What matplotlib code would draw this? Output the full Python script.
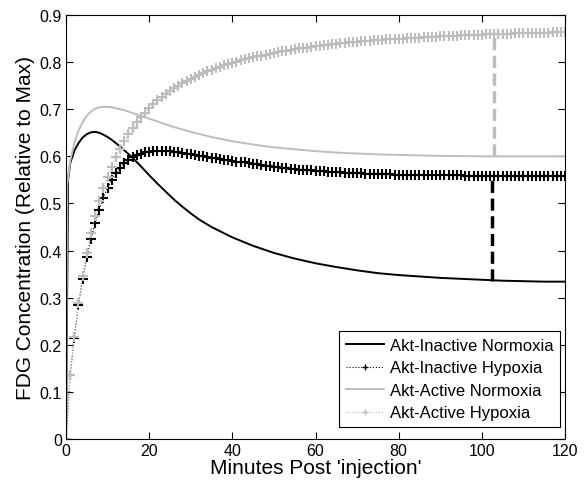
import matplotlib
matplotlib.use("Agg")
import matplotlib.pyplot as plt
import numpy as np

plt.rcParams['font.family'] = ['Liberation Sans', 'DejaVu Sans']

# ---- data ----
t_hyp = list(range(0, 121))
inactive_hypoxia = [
    0.000, 0.135, 0.215, 0.285, 0.340, 0.386, 0.425, 0.459, 0.487, 0.512,
    0.533, 0.550, 0.564, 0.576, 0.585, 0.592, 0.598, 0.603, 0.606, 0.609,
    0.610, 0.611, 0.612, 0.612, 0.612, 0.611, 0.610, 0.609, 0.607, 0.606,
    0.604, 0.603, 0.601, 0.600, 0.598, 0.597, 0.596, 0.594, 0.593, 0.592,
    0.591, 0.589, 0.588, 0.587, 0.585, 0.584, 0.583, 0.582, 0.580, 0.579,
    0.578, 0.577, 0.576, 0.575, 0.574, 0.573, 0.572, 0.571, 0.570, 0.570,
    0.569, 0.568, 0.568, 0.567, 0.567, 0.566, 0.566, 0.565, 0.565, 0.564,
    0.564, 0.564, 0.563, 0.563, 0.563, 0.562, 0.562, 0.562, 0.562, 0.561,
    0.561, 0.561, 0.561, 0.561, 0.561, 0.560, 0.560, 0.560, 0.560, 0.560,
    0.560, 0.560, 0.560, 0.560, 0.560, 0.560, 0.559, 0.559, 0.559, 0.559,
    0.559, 0.559, 0.559, 0.559, 0.559, 0.559, 0.559, 0.559, 0.559, 0.559,
    0.559, 0.559, 0.559, 0.559, 0.559, 0.559, 0.559, 0.559, 0.559, 0.559,
    0.559,
]
active_hypoxia = [
    0.000, 0.135, 0.217, 0.289, 0.347, 0.395, 0.437, 0.473, 0.505, 0.532,
    0.556, 0.578, 0.598, 0.616, 0.632, 0.647, 0.660, 0.672, 0.683, 0.693,
    0.702, 0.711, 0.719, 0.726, 0.733, 0.739, 0.745, 0.750, 0.755, 0.760,
    0.765, 0.769, 0.773, 0.777, 0.781, 0.784, 0.787, 0.790, 0.793, 0.796,
    0.799, 0.801, 0.804, 0.806, 0.808, 0.810, 0.812, 0.814, 0.816, 0.818,
    0.820, 0.821, 0.823, 0.824, 0.826, 0.827, 0.829, 0.830, 0.831, 0.832,
    0.834, 0.835, 0.836, 0.837, 0.838, 0.839, 0.840, 0.841, 0.842, 0.842,
    0.843, 0.844, 0.845, 0.845, 0.846, 0.847, 0.847, 0.848, 0.849, 0.849,
    0.850, 0.850, 0.851, 0.851, 0.852, 0.852, 0.853, 0.853, 0.854, 0.854,
    0.855, 0.855, 0.855, 0.856, 0.856, 0.857, 0.857, 0.857, 0.858, 0.858,
    0.858, 0.859, 0.859, 0.859, 0.860, 0.860, 0.860, 0.860, 0.861, 0.861,
    0.861, 0.861, 0.862, 0.862, 0.862, 0.862, 0.862, 0.863, 0.863, 0.863,
    0.863,
]

t_inactive_norm = [0, 0.5, 1, 2, 3, 4, 5, 6, 7, 8, 9, 10, 11, 12, 13, 14, 15, 16,
                   18, 20, 22, 24, 26, 28, 30, 32, 35, 40, 45, 50, 55, 60, 65, 70,
                   75, 80, 85, 90, 95, 100, 105, 110, 115, 120]
inactive_normoxia = [0.0, 0.55, 0.585, 0.612, 0.628, 0.640, 0.647, 0.651, 0.652, 0.650,
                     0.646, 0.641, 0.635, 0.628, 0.621, 0.613, 0.605, 0.597,
                     0.579, 0.560, 0.542, 0.525, 0.508, 0.493, 0.479, 0.466, 0.450,
                     0.428, 0.410, 0.395, 0.383, 0.373, 0.365, 0.358, 0.352, 0.348,
                     0.345, 0.342, 0.340, 0.338, 0.336, 0.335, 0.334, 0.334]

t_active_norm = [0, 0.3, 1, 2, 3, 4, 5, 6, 7, 8, 9, 10, 11, 12, 14, 16, 18, 20, 22,
                 24, 26, 28, 30, 35, 40, 45, 50, 55, 60, 65, 70, 75, 80, 90, 100,
                 110, 120]
active_normoxia = [0.0, 0.54, 0.59, 0.628, 0.654, 0.673, 0.686, 0.695, 0.701, 0.704,
                   0.705, 0.705, 0.704, 0.702, 0.698, 0.692, 0.686, 0.680, 0.674,
                   0.668, 0.662, 0.657, 0.652, 0.641, 0.632, 0.625, 0.619, 0.615,
                   0.611, 0.608, 0.606, 0.604, 0.603, 0.601, 0.600, 0.600, 0.600]

# vertical difference markers: (time, low, high)
diff_black = (102.5, 0.335, 0.559)
diff_grey = (103.0, 0.600, 0.861)

labels = ['Akt-Inactive Normoxia', 'Akt-Inactive Hypoxia',
          'Akt-Active Normoxia', 'Akt-Active Hypoxia']

BLACK = '#000000'
GREY = '#bdbdbd'

fig = plt.figure(figsize=(5.87, 4.85), dpi=100)
ax = fig.add_axes([66/587, 1-440/485, (565-66)/587, (440-16)/485])

ax.plot(t_inactive_norm, inactive_normoxia, color=BLACK, lw=1.4, label=labels[0])
ax.plot(t_hyp, inactive_hypoxia, color=BLACK, lw=0.8, ls=':', marker='+',
        ms=6.5, mew=1.5, label=labels[1])
ax.plot(t_active_norm, active_normoxia, color=GREY, lw=1.4, label=labels[2])
ax.plot(t_hyp, active_hypoxia, color=GREY, lw=0.8, ls=':', marker='+',
        ms=6.5, mew=1.5, label=labels[3])

ax.plot([diff_black[0]] * 2, [diff_black[1], diff_black[2]], color=BLACK,
        lw=2.5, ls=(0, (3.5, 1.6)))
ax.plot([diff_grey[0]] * 2, [diff_grey[1], diff_grey[2]], color=GREY,
        lw=2.5, ls=(0, (3.5, 1.6)))

ax.set_xlim(0, 120)
ax.set_ylim(0, 0.9)
ax.set_xticks([0, 20, 40, 60, 80, 100, 120])
ax.set_yticks([0, 0.1, 0.2, 0.3, 0.4, 0.5, 0.6, 0.7, 0.8, 0.9])
ax.set_yticklabels(['0', '0.1', '0.2', '0.3', '0.4', '0.5', '0.6', '0.7', '0.8', '0.9'])
ax.tick_params(direction='in', top=True, right=True, length=5, width=0.8,
               labelsize=11.5, pad=3)
for s in ax.spines.values():
    s.set_linewidth(0.8)

ax.set_xlabel("Minutes Post 'injection'", fontsize=15, labelpad=0)
ax.set_ylabel("FDG Concentration (Relative to Max)", fontsize=15, labelpad=3)

leg = ax.legend(loc='lower right', bbox_to_anchor=((560-66)/499, (440-428)/424),
                fontsize=12, frameon=True, fancybox=False,
                edgecolor='black', framealpha=1, borderaxespad=0,
                handlelength=2.3, handletextpad=0.35, labelspacing=0.45,
                borderpad=0.4, markerscale=0.75)
leg.get_frame().set_linewidth(0.8)
for h in leg.legend_handles:
    h.set_markeredgewidth(1.0)

fig.savefig('out.png', dpi=100)
